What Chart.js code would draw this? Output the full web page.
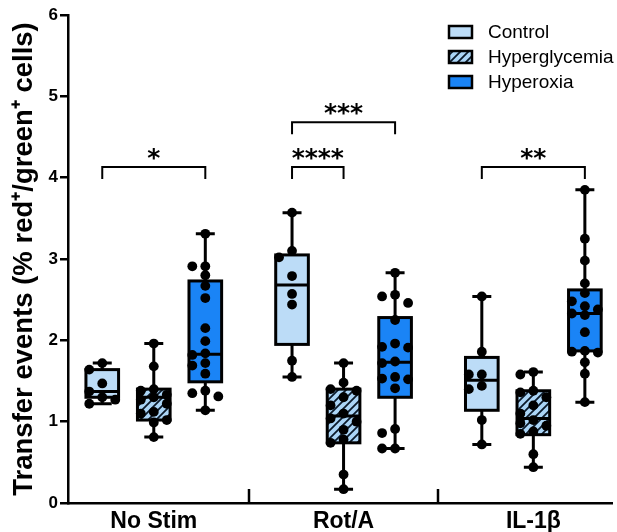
<!DOCTYPE html>
<html><head><meta charset="utf-8">
<script src="https://cdn.jsdelivr.net/npm/chart.js@4/dist/chart.umd.min.js"></script>
<style>html,body{margin:0;padding:0;background:#fff;overflow:hidden}#wrap{width:617px;height:532px;position:relative}</style>
</head><body><div id="wrap"><canvas id="c" width="617" height="532"></canvas></div>
<script>
// ---------- data ----------
const categories = ['No Stim', 'Rot/A', 'IL-1β'];
const seriesNames = ['Control', 'Hyperglycemia', 'Hyperoxia'];
const yTickValues = [0, 1, 2, 3, 4, 5, 6];

const noStimControl = [1.72, 1.64, 1.47, 1.37, 1.30, 1.27, 1.22];
const noStimHyperglycemia = [1.96, 1.68, 1.40, 1.38, 1.33, 1.30, 1.27, 1.22, 1.12, 1.10, 1.02, 0.99, 0.81];
const noStimHyperoxia = [3.31, 2.91, 2.91, 2.80, 2.67, 2.52, 2.15, 1.99, 1.84, 1.82, 1.72, 1.69, 1.59, 1.38, 1.35, 1.31, 1.14];
const rotAControl = [3.57, 3.10, 3.02, 2.79, 2.57, 2.44, 1.75, 1.55];
const rotAHyperglycemia = [1.72, 1.48, 1.40, 1.38, 1.30, 1.20, 1.10, 1.04, 1.00, 0.90, 0.78, 0.74, 0.35, 0.17];
const rotAHyperoxia = [2.83, 2.56, 2.54, 2.46, 2.25, 1.96, 1.92, 1.91, 1.74, 1.72, 1.55, 1.53, 1.52, 1.41, 0.91, 0.86, 0.67, 0.67];
const il1bControl = [2.54, 1.86, 1.58, 1.58, 1.44, 1.40, 1.02, 0.72];
const il1bHyperglycemia = [1.61, 1.58, 1.38, 1.36, 1.30, 1.20, 1.10, 1.02, 0.98, 0.95, 0.88, 0.85, 0.60, 0.44];
const il1bHyperoxia = [3.85, 3.25, 2.98, 2.70, 2.58, 2.48, 2.42, 2.38, 2.33, 2.31, 2.10, 1.87, 1.86, 1.85, 1.73, 1.59, 1.24];

// box quartiles per category [No Stim, Rot/A, IL-1β]
const controlQ1 = [1.30, 1.95, 1.14];
const controlMedian = [1.37, 2.68, 1.51];
const controlQ3 = [1.64, 3.05, 1.79];
const hyperglycemiaQ1 = [1.02, 0.74, 0.84];
const hyperglycemiaMedian = [1.30, 1.07, 1.04];
const hyperglycemiaQ3 = [1.40, 1.40, 1.38];
const hyperoxiaQ1 = [1.49, 1.30, 1.87];
const hyperoxiaMedian = [1.83, 1.73, 2.33];
const hyperoxiaQ3 = [2.73, 2.28, 2.62];

// significance brackets
const bracketCategory = [0, 1, 1, 2];
const bracketFrom = [0, 0, 0, 0];
const bracketTo = [2, 1, 2, 2];
const bracketLevel = [4.13, 4.13, 4.68, 4.13];
const bracketLabel = ['*', '****', '***', '**'];

// ---------- assembly ----------
const pointSets = [
  [noStimControl, rotAControl, il1bControl],
  [noStimHyperglycemia, rotAHyperglycemia, il1bHyperglycemia],
  [noStimHyperoxia, rotAHyperoxia, il1bHyperoxia]
];
const q1Sets = [controlQ1, hyperglycemiaQ1, hyperoxiaQ1];
const medSets = [controlMedian, hyperglycemiaMedian, hyperoxiaMedian];
const q3Sets = [controlQ3, hyperglycemiaQ3, hyperoxiaQ3];

const seriesOffset = [-0.2715, 0, 0.2715];
const boxWidthUnits = 0.172;
const capWidthUnits = 0.10;

function makeHatch() {
  const s = 8;
  const c = document.createElement('canvas');
  c.width = s; c.height = s;
  const g = c.getContext('2d');
  g.fillStyle = '#abd5f6';
  g.fillRect(0, 0, s, s);
  g.strokeStyle = '#0b1a2a';
  g.lineWidth = 1.8;
  g.beginPath();
  g.moveTo(-2, s + 2); g.lineTo(s + 2, -2);
  g.moveTo(-2, 2); g.lineTo(2, -2);
  g.moveTo(s - 2, s + 2); g.lineTo(s + 2, s - 2);
  g.stroke();
  return document.getElementById('c').getContext('2d').createPattern(c, 'repeat');
}
const hatch = makeHatch();
const seriesFill = ['#bcdcf7', hatch, '#1a84f6'];

const datasets = seriesNames.map((name, si) => ({
  type: 'scatter',
  label: name,
  data: pointSets[si].flatMap((vals, ci) => vals.map(v => ({ x: ci + seriesOffset[si], y: v, c: ci, s: si }))),
  pointRadius: 4.9,
  pointHoverRadius: 4.9,
  pointBackgroundColor: '#000',
  pointBorderWidth: 0,
  showLine: false
}));

const boxPlugin = {
  id: 'boxes',
  beforeDatasetsDraw(chart) {
    const { ctx, scales: { x, y } } = chart;
    ctx.save();
    for (let si = 0; si < 3; si++) {
      for (let ci = 0; ci < 3; ci++) {
        const vals = pointSets[si][ci];
        const mn = Math.min(...vals), mx = Math.max(...vals);
        const cx = x.getPixelForValue(ci + seriesOffset[si]);
        const hw = (x.getPixelForValue(boxWidthUnits) - x.getPixelForValue(0)) / 2;
        const cw = (x.getPixelForValue(capWidthUnits) - x.getPixelForValue(0)) / 2;
        const yq1 = y.getPixelForValue(q1Sets[si][ci]);
        const yq3 = y.getPixelForValue(q3Sets[si][ci]);
        const ym = y.getPixelForValue(medSets[si][ci]);
        const ymn = y.getPixelForValue(mn), ymx = y.getPixelForValue(mx);
        ctx.strokeStyle = '#000';
        ctx.lineWidth = 3;
        ctx.lineCap = 'butt';
        ctx.beginPath();
        ctx.moveTo(cx, ymx); ctx.lineTo(cx, yq3);
        ctx.moveTo(cx, yq1); ctx.lineTo(cx, ymn);
        ctx.moveTo(cx - cw, ymx); ctx.lineTo(cx + cw, ymx);
        ctx.moveTo(cx - cw, ymn); ctx.lineTo(cx + cw, ymn);
        ctx.stroke();
        ctx.fillStyle = seriesFill[si];
        ctx.fillRect(cx - hw, yq3, 2 * hw, yq1 - yq3);
        ctx.strokeRect(cx - hw, yq3, 2 * hw, yq1 - yq3);
        ctx.beginPath();
        ctx.moveTo(cx - hw, ym); ctx.lineTo(cx + hw, ym);
        ctx.stroke();
      }
    }
    ctx.restore();
  },
  afterDraw(chart) {
    const { ctx, scales: { x, y }, chartArea } = chart;
    ctx.save();
    // category divider ticks
    ctx.strokeStyle = '#000';
    ctx.lineWidth = 2.5;
    [0.5, 1.5].forEach(v => {
      const px = Math.round(x.getPixelForValue(v));
      ctx.beginPath();
      ctx.moveTo(px, chartArea.bottom);
      ctx.lineTo(px, chartArea.bottom - 14);
      ctx.stroke();
    });
    // brackets
    ctx.lineWidth = 2;
    bracketLabel.forEach((lab, i) => {
      const ci = bracketCategory[i];
      const x1 = x.getPixelForValue(ci + seriesOffset[bracketFrom[i]]);
      const x2 = x.getPixelForValue(ci + seriesOffset[bracketTo[i]]);
      const yy = y.getPixelForValue(bracketLevel[i]);
      ctx.beginPath();
      ctx.moveTo(x1, yy + 12); ctx.lineTo(x1, yy); ctx.lineTo(x2, yy); ctx.lineTo(x2, yy + 12);
      ctx.stroke();
      ctx.fillStyle = '#000';
      ctx.font = 'bold 25px "DejaVu Sans"';
      ctx.textAlign = 'center';
      ctx.textBaseline = 'alphabetic';
      ctx.fillText(lab, (x1 + x2) / 2, yy - 1);
    });
    // legend
    const lx = 449, ly0 = 32, step = 25, sw = 23, sh = 12;
    ctx.font = '19px "Liberation Sans", Arial, sans-serif';
    ctx.textAlign = 'left';
    ctx.textBaseline = 'middle';
    seriesNames.forEach((n, i) => {
      const cy = ly0 + i * step;
      ctx.fillStyle = seriesFill[i];
      ctx.fillRect(lx, cy - sh / 2, sw, sh);
      ctx.lineWidth = 2.5;
      ctx.strokeStyle = '#000';
      ctx.strokeRect(lx, cy - sh / 2, sw, sh);
      ctx.fillStyle = '#000';
      ctx.fillText(n, 488, cy + 1);
    });
    ctx.restore();
  }
};

const chart = new Chart(document.getElementById('c'), {
  type: 'scatter',
  data: { datasets },
  plugins: [boxPlugin],
  options: {
    responsive: false,
    animation: false,
    events: [],
    layout: { padding: { top: 15, right: 0, left: 0, bottom: 0 } },
    plugins: { legend: { display: false }, tooltip: { enabled: false } },
    scales: {
      x: {
        type: 'linear',
        min: -0.452,
        max: 2.415,
        border: { color: '#000', width: 2.5 },
        grid: { display: false, drawTicks: false },
        afterBuildTicks: s => { s.ticks = categories.map((c, i) => ({ value: i })); },
        afterFit: s => { s.height = 29; },
        ticks: {
          autoSkip: false, maxRotation: 0, padding: 5, color: '#000',
          font: { family: '"Liberation Sans", Arial, sans-serif', size: 23, weight: 'bold' },
          callback: v => categories[v]
        }
      },
      y: {
        min: 0,
        max: 6,
        border: { color: '#000', width: 2.5 },
        grid: { display: true, drawOnChartArea: false, drawTicks: true, tickLength: 8, color: '#000', lineWidth: 2.5 },
        afterBuildTicks: s => { s.ticks = yTickValues.map(v => ({ value: v })); },
        afterFit: s => { s.width = 68; },
        ticks: {
          padding: 2, color: '#000',
          font: { family: '"Liberation Sans", Arial, sans-serif', size: 17, weight: 'bold' }
        },
        title: {
          display: true,
          text: 'Transfer events (% red⁺/green⁺ cells)',
          color: '#000',
          padding: { top: 8, bottom: 0 },
          font: { family: '"Liberation Sans", Arial, sans-serif', size: 27.5, weight: 'bold' }
        }
      }
    }
  }
});

// beeswarm spread of overlapping points, computed in pixel space from the chart's scales
(function swarm() {
  const x = chart.scales.x, y = chart.scales.y;
  const d = 8.5, step = 13;
  const unitPerPx = 1 / (x.getPixelForValue(1) - x.getPixelForValue(0));
  chart.data.datasets.forEach((ds, si) => {
    for (let ci = 0; ci < 3; ci++) {
      const pts = ds.data.filter(p => p.c === ci).sort((a, b) => b.y - a.y);
      const placed = [];
      pts.forEach(p => {
        const py = y.getPixelForValue(p.y);
        const cands = [0, -step, step];
        let chosen = null, best = -1, bestDx = 0;
        for (const dx of cands) {
          const mind = placed.reduce((m, q) => Math.min(m, Math.hypot(dx - q.dx, py - q.py)), Infinity);
          if (mind >= d) { chosen = dx; break; }
          if (mind > best) { best = mind; bestDx = dx; }
        }
        if (chosen === null) chosen = bestDx;
        placed.push({ dx: chosen, py });
        p.x = ci + seriesOffset[si] + chosen * unitPerPx;
      });
    }
  });
  chart.update('none');
})();
</script>
</body></html>
